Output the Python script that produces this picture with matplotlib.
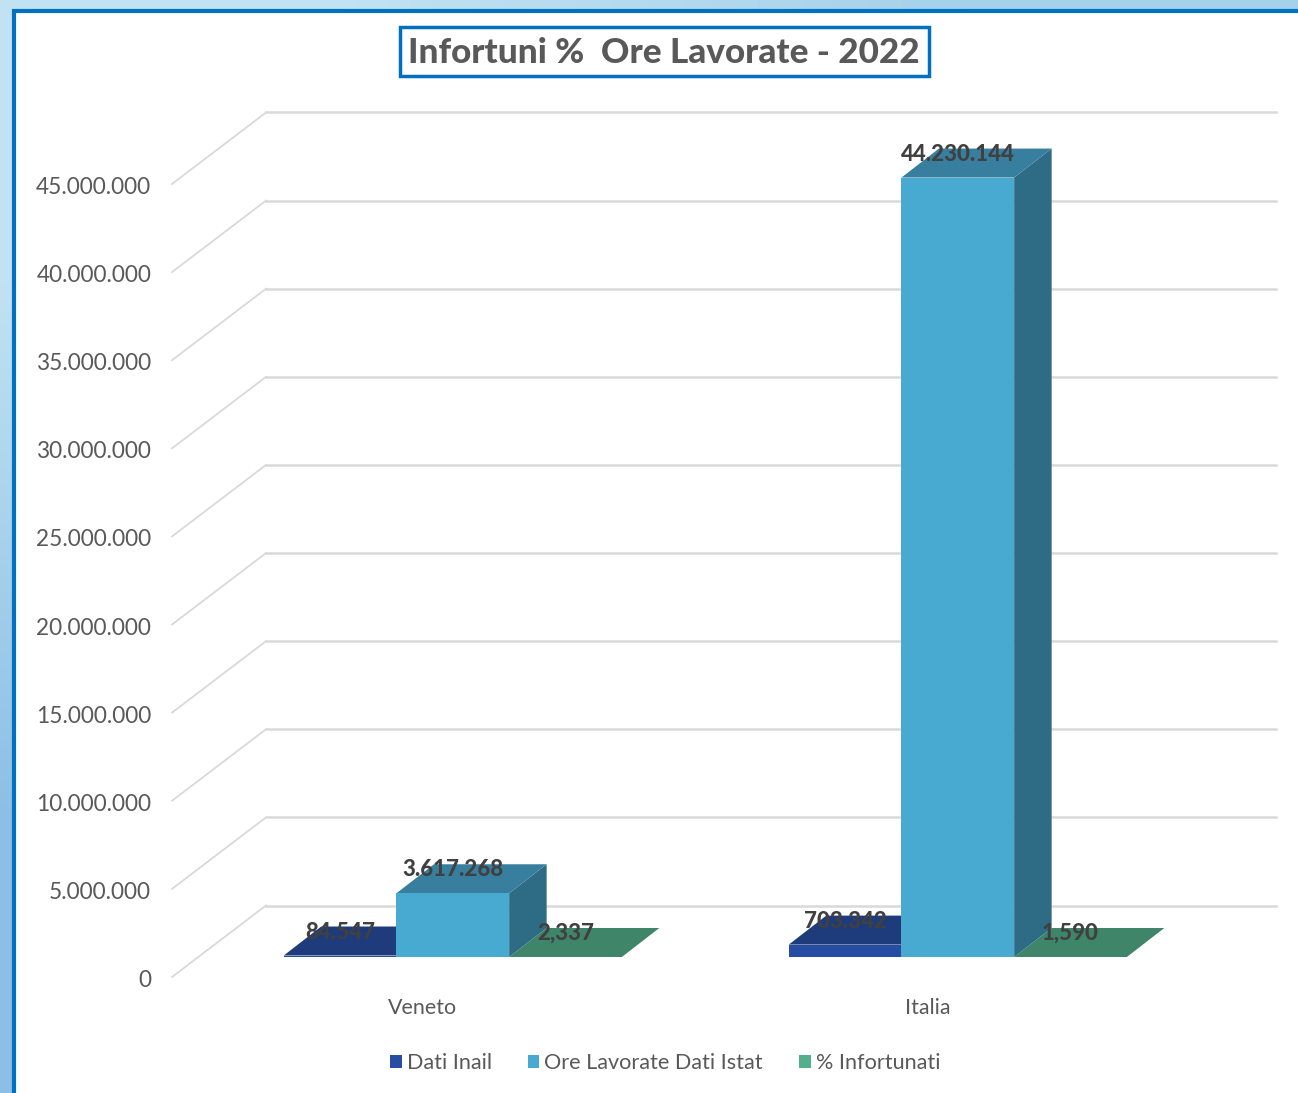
#!/usr/bin/env python3
# -*- coding: utf-8 -*-
import numpy as np
import matplotlib
matplotlib.use("Agg")
import matplotlib.pyplot as plt
from matplotlib.patches import Polygon, Patch, Rectangle
from matplotlib.ticker import FuncFormatter
from matplotlib.transforms import ScaledTranslation

categories = ["Veneto", "Italia"]
dati_inail = [84547, 703342]
ore_lavorate = [3617268, 44230144]
perc_infortunati = [2.337, 1.590]
series_names = ["Dati Inail", "Ore Lavorate Dati Istat", "% Infortunati"]
labels_inail = ["84.547", "703.342"]
labels_ore = ["3.617.268", "44.230.144"]
labels_perc = ["2,337", "1,590"]
yticks = [0, 5000000, 10000000, 15000000, 20000000, 25000000, 30000000, 35000000, 40000000, 45000000]

W, H = 1298, 1093
plt.rcParams['font.family'] = ['Lato', 'DejaVu Sans']

fig = plt.figure(figsize=(W / 100, H / 100), dpi=100)

# blue gradient behind the panel
bg = fig.add_axes([0, 0, 1, 1], zorder=0)
grad = np.array([[[0.76, 0.89, 0.95], [0.65, 0.82, 0.92]],
                 [[0.55, 0.75, 0.90], [0.60, 0.78, 0.91]]])
bg.imshow(grad, aspect='auto', interpolation='bilinear', extent=[0, W, H, 0])
bg.add_patch(Rectangle((13.5, 11), W, H, fc='white', ec='#0070C0', lw=3))
# title box
bg.add_patch(Rectangle((400, 27), 528.5, 49, fc='white', ec='#0070C0', lw=2.5))
bg.set_xlim(0, W)
bg.set_ylim(H, 0)
bg.axis('off')

# front floor edge of the 3d box: x 172-1182, y 184-977 in pixels
left, right, top, bottom = 172, 1182, 184, 977
ax = fig.add_axes([left / W, 1 - bottom / H, (right - left) / W, (bottom - top) / H], zorder=1)
ax.patch.set_alpha(0)
ax.set_xlim(-0.5, 1.5)
ax.set_ylim(0, 45000000)


def px_x(p):
    return p * 2 / (right - left)


def px_v(p):
    return p * 45000000 / (bottom - top)


# wall grid
back_x, back_v = px_x(94), px_v(71.5)
for v in yticks:
    ax.plot([-0.5, -0.5 + back_x], [v, v + back_v], color='#D9D9D9', lw=1.3, clip_on=False, zorder=1)
    ax.plot([-0.5 + back_x, 1.5 + back_x], [v + back_v, v + back_v], color='#D9D9D9', lw=1.8,
            clip_on=False, zorder=1)

# bars
bar_w = px_x(112.7)
shift_x, shift_v = px_x(28.3), px_v(20)
depth_x, depth_v = px_x(37.5), px_v(29)


def bar3d(xc, val, front, top_c, side, z):
    x0 = xc - bar_w / 2 + shift_x
    x1 = x0 + bar_w
    v0 = shift_v
    v1 = shift_v + val
    ax.add_patch(Polygon([(x1, v0), (x1 + depth_x, v0 + depth_v), (x1 + depth_x, v1 + depth_v), (x1, v1)],
                         fc=side, ec='none', clip_on=False, zorder=z))
    ax.add_patch(Polygon([(x0, v1), (x1, v1), (x1 + depth_x, v1 + depth_v), (x0 + depth_x, v1 + depth_v)],
                         fc=top_c, ec='none', clip_on=False, zorder=z))
    ax.add_patch(Polygon([(x0, v0), (x1, v0), (x1, v1), (x0, v1)],
                         fc=front, ec='none', clip_on=False, zorder=z))


x = np.arange(len(categories))
colors = [("#264DA1", "#1E3B7B", "#1B3570"),
          ("#48A9D1", "#387F9F", "#2E6C85"),
          ("#53B08F", "#3F8569", "#37755C")]
all_vals = [dati_inail, ore_lavorate, perc_infortunati]
all_labels = [labels_inail, labels_ore, labels_perc]
orders = [3, 5, 4]
for i in range(3):
    for j in range(len(x)):
        xc = x[j] + (i - 1) * bar_w
        bar3d(xc, all_vals[i][j], colors[i][0], colors[i][1], colors[i][2], orders[i])
        ax.text(xc + shift_x, shift_v + all_vals[i][j] + px_v(23.5), all_labels[i][j], ha='center', va='center',
                fontsize=16, fontweight='black', color='#404040', zorder=8)

ax.set_xticks(x)
ax.set_xticklabels(categories)
ax.set_yticks(yticks)
ax.yaxis.set_major_formatter(FuncFormatter(lambda v, pos: f"{int(v):,}".replace(",", ".")))
ax.tick_params(axis='y', length=0, pad=15, labelsize=16.3, labelcolor='#595959')
ax.tick_params(axis='x', length=0, pad=15, labelsize=15.4, labelcolor='#595959')
# small nudges in pixels, at dpi 100
for lab in ax.get_yticklabels():
    lab.set_transform(lab.get_transform() + ScaledTranslation(0, -1.5 / 100, fig.dpi_scale_trans))
for lab in ax.get_xticklabels():
    lab.set_transform(lab.get_transform() + ScaledTranslation(-2 / 100, 0, fig.dpi_scale_trans))
for s in ax.spines.values():
    s.set_visible(False)

handles = [Patch(fc=colors[i][0], ec='none', label=series_names[i]) for i in range(3)]
fig.legend(handles=handles, loc='center', bbox_to_anchor=(665 / W, 1 - 1063 / H), ncol=3, frameon=False,
           fontsize=15.6, labelcolor='#595959', handlelength=0.55, handleheight=0.55, handletextpad=0.23,
           columnspacing=1.65)

fig.text(664 / W, 1 - 53 / H, "Infortuni %  Ore Lavorate - 2022", ha='center', va='center', fontsize=25.3,
         fontweight='black', color='#595959', zorder=5)

fig.savefig("out.png", dpi=100)
